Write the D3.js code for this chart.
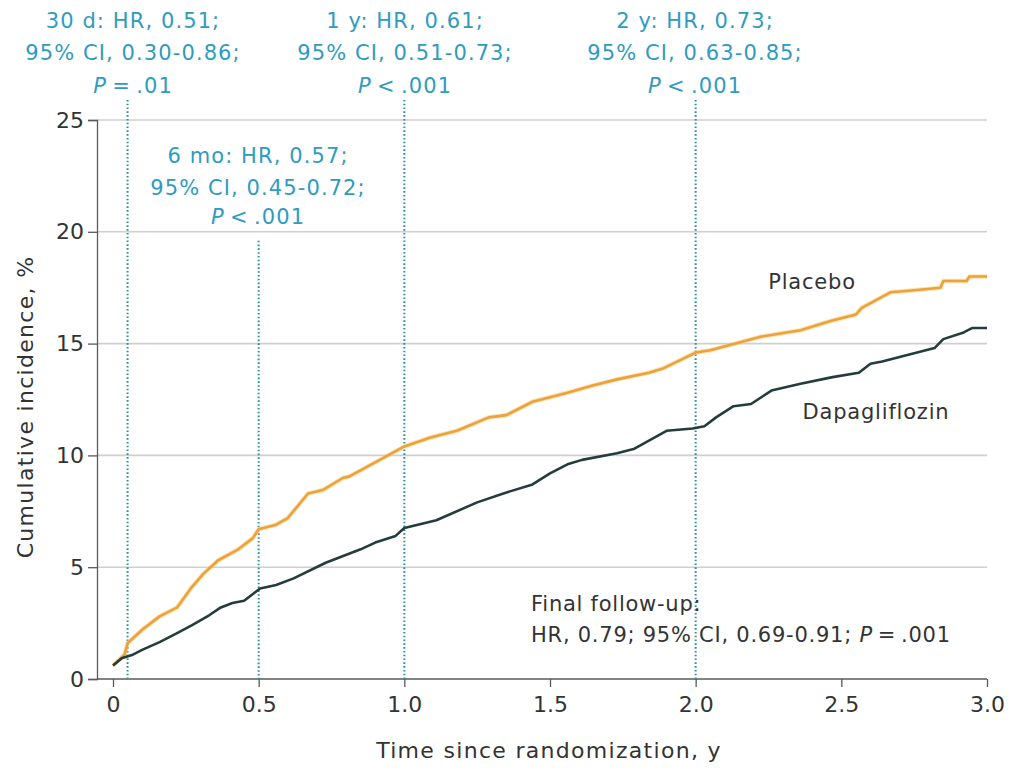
<!DOCTYPE html>
<html>
<head>
<meta charset="utf-8">
<script src="https://cdn.jsdelivr.net/npm/d3@7"></script>
<style>
  html, body { margin: 0; padding: 0; background: #fff; }
  svg { display: block; }
  text { font-family: "DejaVu Sans", "Noto Sans", sans-serif; }
</style>
</head>
<body>
<svg id="chart" width="1011" height="768"></svg>
<script>
// Cumulative incidence over time (years, %)
const placeboTime = [0, 0.04, 0.05, 0.1, 0.16, 0.22, 0.27, 0.31, 0.36, 0.43, 0.48, 0.5, 0.56, 0.6, 0.67, 0.72, 0.79, 0.81, 0.93, 1.0, 1.09, 1.18, 1.29, 1.35, 1.44, 1.56, 1.64, 1.73, 1.84, 1.89, 2.0, 2.05, 2.22, 2.36, 2.46, 2.55, 2.57, 2.67, 2.76, 2.84, 2.85, 2.93, 2.94, 3.0];
const placeboPct  = [0.6, 1.1, 1.6, 2.2, 2.8, 3.2, 4.1, 4.7, 5.3, 5.8, 6.3, 6.7, 6.9, 7.2, 8.3, 8.45, 9.0, 9.05, 9.9, 10.4, 10.8, 11.1, 11.7, 11.8, 12.4, 12.8, 13.1, 13.4, 13.7, 13.9, 14.6, 14.7, 15.3, 15.6, 16.0, 16.3, 16.6, 17.3, 17.4, 17.5, 17.8, 17.8, 18.0, 18.0];

const dapaTime = [0, 0.03, 0.065, 0.1, 0.16, 0.22, 0.27, 0.33, 0.37, 0.41, 0.45, 0.505, 0.56, 0.62, 0.73, 0.85, 0.9, 0.97, 1.0, 1.11, 1.25, 1.34, 1.44, 1.5, 1.56, 1.61, 1.73, 1.79, 1.9, 1.99, 2.03, 2.07, 2.13, 2.19, 2.26, 2.36, 2.47, 2.56, 2.6, 2.64, 2.73, 2.82, 2.85, 2.92, 2.95, 3.0];
const dapaPct  = [0.6, 0.93, 1.07, 1.3, 1.65, 2.05, 2.4, 2.85, 3.2, 3.4, 3.5, 4.05, 4.2, 4.5, 5.2, 5.8, 6.1, 6.4, 6.75, 7.1, 7.9, 8.3, 8.7, 9.2, 9.6, 9.8, 10.1, 10.3, 11.1, 11.2, 11.3, 11.7, 12.2, 12.3, 12.9, 13.2, 13.5, 13.7, 14.1, 14.2, 14.5, 14.8, 15.2, 15.5, 15.7, 15.7];

const xTicks = [0, 0.5, 1.0, 1.5, 2.0, 2.5, 3.0];
const xTickLabels = ["0", "0.5", "1.0", "1.5", "2.0", "2.5", "3.0"];
const yTicks = [0, 5, 10, 15, 20, 25];

// Landmark time points with hazard ratios
const landmarkTime = [0.05, 0.5, 1.0, 2.0];
const landmarkTop = [25.9, 19.6, 25.9, 25.9];
const landmarkLines = [
  ["30 d: HR, 0.51;", "95% CI, 0.30-0.86;", "\u2009=\u2009.01"],
  ["6 mo: HR, 0.57;", "95% CI, 0.45-0.72;", "\u2009<\u2009.001"],
  ["1 y: HR, 0.61;", "95% CI, 0.51-0.73;", "\u2009<\u2009.001"],
  ["2 y: HR, 0.73;", "95% CI, 0.63-0.85;", "\u2009<\u2009.001"]
];

const svg = d3.select("#chart");
const x = d3.scaleLinear().domain([0, 3]).range([113, 987]);
const y = d3.scaleLinear().domain([0, 25]).range([679, 120]);

const axisColor = "#5a5a5a";
const textColor = "#333";
const noteColor = "#2f9bbf";
const fontFam = "'DejaVu Sans', sans-serif";

// Gridlines
svg.append("g").selectAll("line")
  .data(yTicks.filter(d => d > 0))
  .join("line")
  .attr("x1", 97).attr("x2", 987)
  .attr("y1", d => y(d)).attr("y2", d => y(d))
  .attr("stroke", "#cfcfcf").attr("stroke-width", 1.6);

// Y axis
const yAxis = svg.append("g")
  .attr("transform", "translate(97,0)")
  .call(d3.axisLeft(y).tickValues(yTicks).tickSize(9).tickPadding(4));
yAxis.select(".domain").attr("stroke", axisColor).attr("stroke-width", 1.3);
yAxis.selectAll(".tick line").attr("stroke", axisColor).attr("stroke-width", 1.3);
yAxis.selectAll(".tick text").attr("fill", textColor).attr("font-size", 22)
  .attr("font-family", fontFam);

// X axis
const xAxis = svg.append("g")
  .attr("transform", "translate(0,679)")
  .call(d3.axisBottom(x).tickValues(xTicks).tickFormat((d, i) => xTickLabels[i]).tickSize(8).tickPadding(9));
xAxis.select(".domain").remove();
xAxis.append("line").attr("x1", 97).attr("x2", 987).attr("y1", 0).attr("y2", 0)
  .attr("stroke", axisColor).attr("stroke-width", 1.3);
xAxis.selectAll(".tick line").attr("stroke", axisColor).attr("stroke-width", 1.3);
xAxis.selectAll(".tick text").attr("fill", textColor).attr("font-size", 22)
  .attr("font-family", fontFam);

// Axis titles
svg.append("text")
  .attr("x", 549).attr("y", 758)
  .attr("text-anchor", "middle").attr("font-size", 22).attr("letter-spacing", 1.3).attr("fill", textColor)
  .text("Time since randomization, y");
svg.append("text")
  .attr("transform", "translate(33,407) rotate(-90)")
  .attr("text-anchor", "middle").attr("font-size", 22).attr("letter-spacing", 1.3).attr("fill", textColor)
  .text("Cumulative incidence, %");

// Landmark dotted lines
svg.append("g").selectAll("line")
  .data(landmarkTime)
  .join("line")
  .attr("x1", d => x(d)).attr("x2", d => x(d))
  .attr("y1", (d, i) => y(landmarkTop[i])).attr("y2", y(0))
  .attr("stroke", "#2b8f96").attr("stroke-width", 2)
  .attr("stroke-dasharray", "1.6,2.2");

// Curves
const line = d3.line().x(d => x(d[0])).y(d => y(d[1]));
const placebo = placeboTime.map((t, i) => [t, placeboPct[i]]);
const dapa = dapaTime.map((t, i) => [t, dapaPct[i]]);

svg.append("path").datum(placebo).attr("d", line)
  .attr("fill", "none").attr("stroke", "#f6c96a").attr("stroke-width", 4.5).attr("opacity", 0.5);
svg.append("path").datum(placebo).attr("d", line)
  .attr("fill", "none").attr("stroke", "#eea03a").attr("stroke-width", 2.6)
  .attr("stroke-linejoin", "round");
svg.append("path").datum(dapa).attr("d", line)
  .attr("fill", "none").attr("stroke", "#243c3c").attr("stroke-width", 2.6)
  .attr("stroke-linejoin", "round");

// Series labels
svg.append("text").attr("x", 812).attr("y", 289).attr("text-anchor", "middle")
  .attr("font-size", 21).attr("letter-spacing", 0.8).attr("fill", textColor).text("Placebo");
svg.append("text").attr("x", 876).attr("y", 419).attr("text-anchor", "middle")
  .attr("font-size", 21).attr("letter-spacing", 0.8).attr("fill", textColor).text("Dapagliflozin");

// Landmark annotations
const noteX = [133, 258, 405, 695];
const noteY = [[28, 60, 93], [163, 195, 224], [28, 60, 93], [28, 60, 93]];
landmarkLines.forEach((lines, i) => {
  const g = svg.append("g").attr("fill", noteColor).attr("font-size", 21)
    .attr("letter-spacing", 1.1).attr("text-anchor", "middle");
  g.append("text").attr("x", noteX[i]).attr("y", noteY[i][0]).text(lines[0]);
  g.append("text").attr("x", noteX[i]).attr("y", noteY[i][1]).text(lines[1]);
  const t = g.append("text").attr("x", noteX[i]).attr("y", noteY[i][2]);
  t.append("tspan").attr("font-style", "italic").text("P");
  t.append("tspan").text(lines[2]);
});

// Final follow-up note
const fin = svg.append("g").attr("fill", textColor).attr("font-size", 21).attr("letter-spacing", 0.75);
fin.append("text").attr("x", 531).attr("y", 611).text("Final follow-up:");
const ft = fin.append("text").attr("x", 531).attr("y", 642);
ft.append("tspan").text("HR, 0.79; 95% CI, 0.69-0.91; ");
ft.append("tspan").attr("font-style", "italic").text("P");
ft.append("tspan").text("\u2009=\u2009.001");
</script>
</body>
</html>
